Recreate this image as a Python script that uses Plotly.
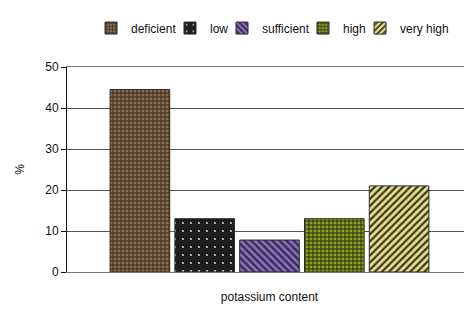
import plotly.graph_objects as go

categories = ["potassium content"]
series_names = ["deficient", "low", "sufficient", "high", "very high"]
series_values = [[44.5], [13.0], [7.8], [13.0], [21.0]]
y_ticks = [0, 10, 20, 30, 40, 50]

styles = [
    dict(shape="+", bg="#8d6e4c", fg="#2e241b", size=4, solidity=0.4),
    dict(shape=".", bg="#1e1e1e", fg="#cfe8e0", size=8, solidity=0.05),
    dict(shape="\\", bg="#3a2e55", fg="#8a72c0", size=5, solidity=0.5),
    dict(shape="+", bg="#8ea020", fg="#1e2410", size=4, solidity=0.4),
    dict(shape="/", bg="#3a3622", fg="#e8e08a", size=5, solidity=0.55),
]
legend_ids = ["legend", "legend2", "legend3", "legend4", "legend5"]
legend_x = [0.0593, 0.2543, 0.3827, 0.5827, 0.7235]

fig = go.Figure()
for name, vals, st, lid in zip(series_names, series_values, styles, legend_ids):
    fig.add_trace(go.Bar(
        x=categories, y=vals, name=name, legend=lid,
        marker=dict(
            color=st["bg"],
            line=dict(color="#2a2a2a", width=1),
            pattern=dict(shape=st["shape"], bgcolor=st["bg"], fgcolor=st["fg"],
                         size=st["size"], solidity=st["solidity"], fillmode="replace"),
        ),
    ))

legend_layout = {}
for lid, lx in zip(legend_ids, legend_x):
    legend_layout[lid] = dict(orientation="h", x=lx, xanchor="left", y=1.19,
                              yanchor="middle", bgcolor="rgba(0,0,0,0)",
                              font=dict(size=12, color="#111"))

# the page body has an 8px margin, so the figure is 8px smaller than the window
fig.update_layout(
    width=464, height=306,
    margin=dict(l=59, r=0, t=59, b=42, autoexpand=False),
    paper_bgcolor="white", plot_bgcolor="white",
    barmode="group", bargap=0.2, bargroupgap=0.08,
    font=dict(family="Liberation Sans, Arial, sans-serif", size=12, color="#111"),
    showlegend=True,
    xaxis=dict(showline=True, mirror=True, linecolor="#777", linewidth=1,
               showticklabels=False, ticks="",
               title=dict(text="potassium content", standoff=20, font=dict(size=12))),
    yaxis=dict(range=[0, 50], tickvals=y_ticks, showgrid=True, gridcolor="#555",
               gridwidth=1, showline=True, linecolor="#111", linewidth=1,
               ticks="outside", ticklen=5, tickcolor="#111", zeroline=False,
               title=dict(text="%", standoff=18, font=dict(size=12))),
    **legend_layout,
)

fig.write_html("out.html")
